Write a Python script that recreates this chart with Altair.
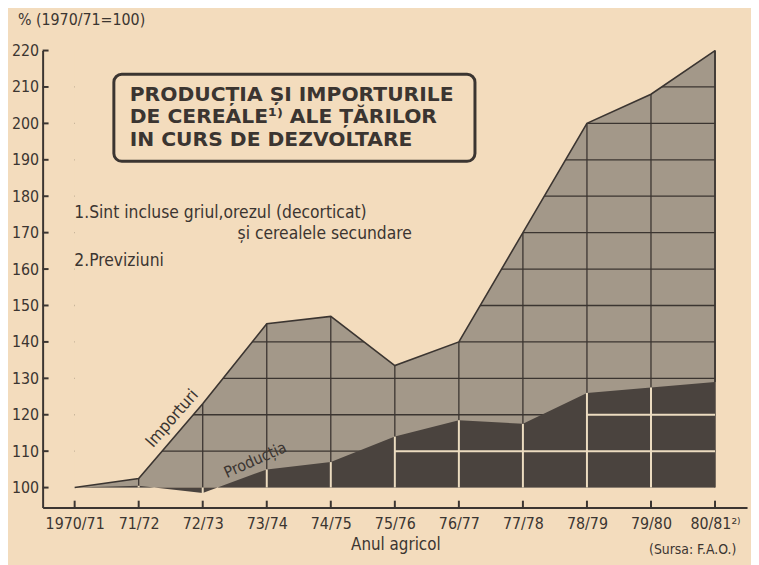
import altair as alt
import pandas as pd

# ---- data ----
years = ["1970/71", "71/72", "72/73", "73/74", "74/75", "75/76",
         "76/77", "77/78", "78/79", "79/80", "80/81²⁾"]
importuri = [100, 102.5, 123, 145, 147, 133.5, 140, 170, 200, 208, 220]
productia = [100, 100.5, 98.5, 105, 107, 114, 118.5, 117.5, 126, 127.5, 129]
y_ticks = [100, 110, 120, 130, 140, 150, 160, 170, 180, 190, 200, 210, 220]
grid_levels = [110, 120, 130, 140, 150, 160, 170, 180, 190, 200, 210]

BG = "#f3dcbd"
DARK = "#3b3531"
IMP = "#a39889"
PROD = "#4a433e"
LIGHT = "#ecdcc0"
NARROW = "Liberation Sans Narrow, DejaVu Sans Condensed, DejaVu Sans, sans-serif"

W, H = 712, 462

df = pd.DataFrame({"year": years, "imp": importuri, "prod": productia})
df_inner = df.iloc[1:-1]

dark_grid = pd.DataFrame({"level": grid_levels,
                          "x1": [years[0]] * len(grid_levels),
                          "x2": [years[-1]] * len(grid_levels)})
light_rows = [(L, years[i], years[i + 1])
              for i in range(len(years) - 1)
              for L in grid_levels
              if min(productia[i], productia[i + 1]) > L + 1]
light_grid = pd.DataFrame(light_rows, columns=["level", "x1", "x2"])
ticks_df = pd.DataFrame({"t": y_ticks})

xs = alt.Scale(type="point", padding=0.5, domain=years)
ys = alt.Scale(domain=[94.5, 220], nice=False, zero=False)

x_axis = alt.Axis(title=None, labelAngle=0, tickSize=0, labelPadding=8,
                  labelFont=NARROW, labelFontSize=16, labelColor=DARK,
                  domainColor=DARK, domainWidth=2, grid=False)
y_axis = alt.Axis(title=None, values=y_ticks, tickSize=0, labelPadding=4,
                  labelFont=NARROW, labelFontSize=16, labelColor=DARK,
                  domainColor=DARK, domainWidth=2, grid=False)


def X(field):
    return alt.X(field, scale=xs, axis=x_axis, title=None)


def Y(field):
    return alt.Y(field, scale=ys, axis=y_axis, title=None)


base = alt.Chart(df)

imp_area = base.mark_area(color=IMP).encode(
    x=X("year:N"), y=Y("imp:Q"), y2=alt.Y2(datum=100),
)
dark_h = alt.Chart(dark_grid).mark_rule(color=DARK, strokeWidth=1.3).encode(
    x=X("x1:N"), x2="x2:N", y=Y("level:Q"),
)
dark_v = base.mark_rule(color=DARK, strokeWidth=1.3).encode(
    x=X("year:N"), y=Y("imp:Q"), y2=alt.Y2(datum=100),
)
mask = base.mark_area(color=BG).encode(
    x=X("year:N"), y=Y("imp:Q"), y2=alt.Y2(datum=220),
)
prod_area = base.mark_area(color=PROD).encode(
    x=X("year:N"), y=Y("prod:Q"), y2=alt.Y2(datum=100),
)
light_v = alt.Chart(df_inner).mark_rule(color=LIGHT, strokeWidth=2).encode(
    x=X("year:N"), y=Y("prod:Q"), y2=alt.Y2(datum=100),
)
light_h = alt.Chart(light_grid).mark_rule(color=LIGHT, strokeWidth=2).encode(
    x=X("x1:N"), x2="x2:N", y=Y("level:Q"),
)
imp_line = base.mark_line(color=DARK, strokeWidth=1.6).encode(
    x=X("year:N"), y=Y("imp:Q"),
)
right_edge = alt.Chart(df.iloc[-1:]).mark_rule(color=DARK, strokeWidth=1.6).encode(
    x=X("year:N"), y=Y("prod:Q"), y2="imp:Q",
)

y_tick_marks = alt.Chart(ticks_df).mark_rule(color=DARK, strokeWidth=2).encode(
    x=alt.value(0), x2=alt.value(6), y=Y("t:Q"),
)
x_tick_marks = base.mark_rule(color=DARK, strokeWidth=2).encode(
    x=X("year:N"), y=alt.value(H - 7), y2=alt.value(H),
)

one = pd.DataFrame({"k": [0]})


def label(txt, x, y, size=16, font=NARROW, weight="normal", align="left",
          angle=0, color=DARK):
    return alt.Chart(one).mark_text(
        text=txt, font=font, fontSize=size, fontWeight=weight, align=align,
        baseline="middle", angle=angle, color=color,
    ).encode(x=alt.value(x), y=alt.value(y))


box = alt.Chart(one).mark_rect(
    fill=BG, stroke=DARK, strokeWidth=3, cornerRadius=8,
).encode(x=alt.value(72), x2=alt.value(437), y=alt.value(24), y2=alt.value(112))

TF = "DejaVu Sans"
texts = [
    label("% (1970/71=100)", -25, -31, size=16),
    label("PRODUCȚIA ȘI IMPORTURILE", 88, 45, size=20.5, font=TF, weight="bold"),
    label("DE CEREALE¹⁾ ALE ȚĂRILOR", 88, 67, size=20.5, font=TF, weight="bold"),
    label("IN CURS DE DEZVOLTARE", 88, 90, size=20.5, font=TF, weight="bold"),
    label("1.Sint incluse griul,orezul (decorticat)", 32, 164, size=17.5),
    label("și cerealele secundare", 197, 185, size=17.5),
    label("2.Previziuni", 32, 213, size=17.5),
    label("Importuri", 131, 372, size=17, align="center", angle=311),
    label("Producția", 215, 414, size=16, align="center", angle=336),
    label("Anul agricol", 357, 500, size=17, align="center"),
    label("(Sursa: F.A.O.)", 657, 505, size=14, align="center"),
]

chart = alt.layer(
    imp_area, dark_h, dark_v, mask, prod_area, light_v, light_h,
    imp_line, right_edge, y_tick_marks, x_tick_marks, box, *texts,
).properties(
    width=W, height=H,
    autosize=alt.AutoSizeParams(type="none"),
    padding={"left": 35, "top": 40, "right": 4, "bottom": 55},
    background=BG,
).configure_view(stroke=None)

chart.save("out.html", embed_options={"renderer": "svg", "actions": False})
